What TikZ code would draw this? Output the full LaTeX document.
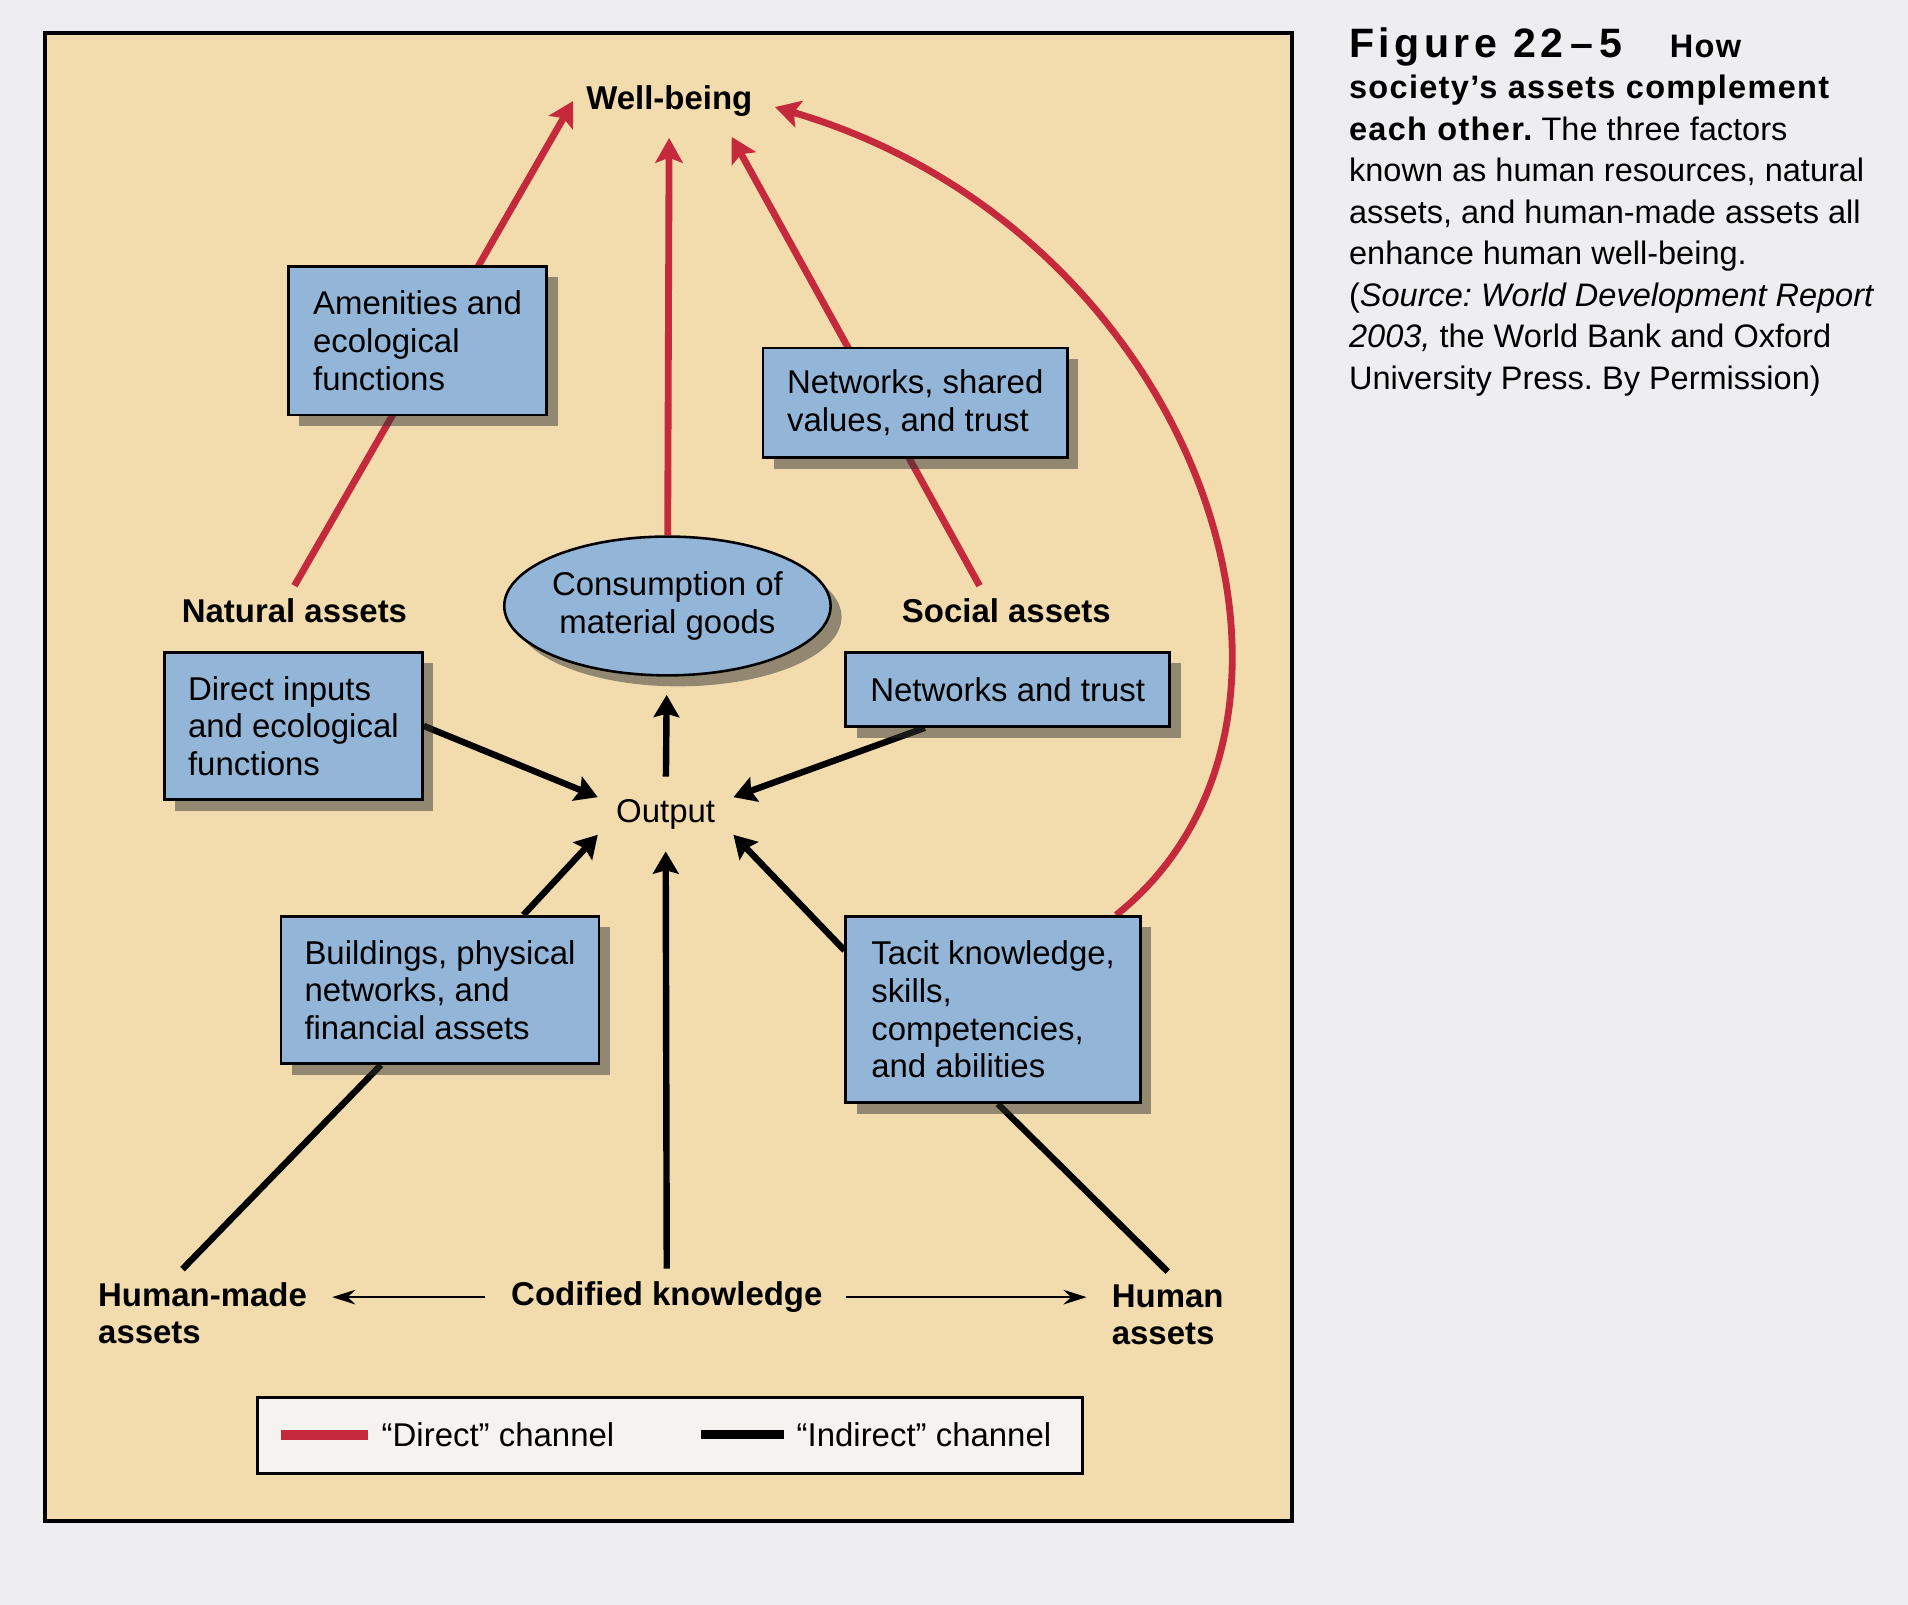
\documentclass[tikz,border=0pt]{standalone}
\usepackage{fontspec}
\setmainfont{Liberation Sans}
\newfontfamily\capheadfont[LetterSpace=11]{Liberation Sans}
\newfontfamily\capboldfont[LetterSpace=4]{Liberation Sans}
\usetikzlibrary{arrows.meta,shapes.geometric,shadows,backgrounds}
\definecolor{panel}{HTML}{F2DCAE}
\definecolor{boxblue}{HTML}{93B5D8}
\definecolor{dred}{HTML}{C42A3C}
\definecolor{pagebg}{HTML}{EEEEF0}
\definecolor{legendbg}{HTML}{F4F3EF}
\newcommand{\boxfont}{\fontsize{7.7}{8.8}\selectfont}
\newcommand{\lblfont}{\fontsize{7.7}{8.8}\selectfont\bfseries}
\frenchspacing
\begin{document}
\begin{tikzpicture}[x=0.01cm,y=-0.01cm,
  asset/.style={rectangle,draw,line width=0.6pt,fill=boxblue,align=left,inner sep=0pt,font=\boxfont,
    drop shadow={shadow xshift=0.09cm,shadow yshift=-0.09cm,fill=black!80,opacity=0.5}},
  lbl/.style={font=\lblfont,inner sep=0.1cm,align=left},
  direct/.style={dred,line width=1.6pt,-{Stealth[length=5.8pt,width=6.4pt,inset=1.2pt]}},
  indirect/.style={line width=1.5pt,-{Stealth[length=5.2pt,width=6pt,inset=0.8pt]}},
  link/.style={line width=1.5pt},
  thinarrow/.style={line width=0.6pt,-{Stealth[length=5.4pt,width=3.4pt]}}]
\useasboundingbox (0,0) rectangle (1568,1319);

\node (wellbeing) at (550,83) [lbl] {Well-being};
\node (amenities) at (236,218) [asset,anchor=north west,minimum width=2.12cm,minimum height=1.22cm] {Amenities and\\ecological\\functions};
\node (netshared) at (626,285) [asset,anchor=north west,minimum width=2.5cm,minimum height=0.9cm] {Networks, shared\\values, and trust};
\node (natural) at (242,502) [lbl] {Natural assets};
\node (social) at (827,502) [lbl] {Social assets};
\node (consumption) at (548.5,498) [asset,ellipse,align=center,minimum width=2.53cm,minimum height=1.14cm] {Consumption of\\material goods};
\node (directin) at (134,535) [asset,anchor=north west,minimum width=2.12cm,minimum height=1.21cm] {Direct inputs\\and ecological\\functions};
\node (nettrust) at (694,535) [asset,anchor=north west,minimum width=2.66cm,minimum height=0.61cm] {Networks and trust};
\node (output) at (547,669) [font=\boxfont,inner sep=0pt,minimum width=1.1cm,minimum height=0.6cm] {Output};
\node (buildings) at (230,752) [asset,anchor=north west,minimum width=2.61cm,minimum height=1.21cm] {Buildings, physical\\networks, and\\financial assets};
\node (tacit) at (694,752) [asset,anchor=north west,minimum width=2.42cm,minimum height=1.53cm] {Tacit knowledge,\\skills,\\competencies,\\and abilities};
\node (codified) at (548,1066) [lbl] {Codified knowledge};
\node (humanmade) at (70,1043) [lbl,anchor=north west] {Human-made\\assets};
\node (humanassets) at (903,1045) [lbl,anchor=north west] {Human\\assets};

\node (legend) at (210,1147) [anchor=north west,draw,line width=0.7pt,fill=legendbg,minimum width=6.78cm,minimum height=0.63cm] {};
\node (directkey) at (266.5,1179) [fill=dred,inner sep=0pt,minimum width=0.71cm,minimum height=0.08cm] {};
\node (directtxt) at (313,1179) [anchor=west,inner sep=0pt,font=\boxfont] {“Direct” channel};
\node (indirectkey) at (610,1179) [fill=black,inner sep=0pt,minimum width=0.68cm,minimum height=0.07cm] {};
\node (indirecttxt) at (654,1179) [anchor=west,inner sep=0pt,font=\boxfont] {“Indirect” channel};

\node (caption) at (1108,22) [anchor=north west,inner sep=0pt,align=left,font={\fontsize{7.6}{9.7}\selectfont}]
  {{\capheadfont\bfseries\fontsize{9.6}{9.7}\selectfont Figure 22\,–\,5}\hspace{11pt}{\capboldfont\bfseries How}\\
   {\capboldfont\bfseries society’s assets complement}\\
   {\capboldfont\bfseries each other.} The three factors\\
   known as human resources, natural\\
   assets, and human-made assets all\\
   enhance human well-being.\\
   (\textit{Source: World Development Report}\\
   \textit{2003,} the World Bank and Oxford\\
   University Press. By Permission)};

\begin{scope}[on background layer]
\fill[pagebg] (0,0) rectangle (1568,1319);
\draw[line width=0.9pt,fill=panel] (37,27) rectangle (1062,1250);
\draw[direct] (natural.north) -- (wellbeing.west);
\draw[direct,shorten >=0.07cm] (consumption) -- (wellbeing);
\draw[direct,shorten >=0.07cm] ([xshift=-0.22cm]social.north) -- (wellbeing.-26);
\draw[direct] ([xshift=-0.21cm]tacit.north east) .. controls (1120,590) and (985,190) .. ([xshift=0.08cm,yshift=-0.05cm]wellbeing.east);
\draw[indirect] (directin.east) -- (output.166);
\draw[indirect] ([xshift=0.66cm]nettrust.south west) -- (output.14);
\draw[indirect,shorten >=0.15cm] (output) -- (consumption);
\draw[indirect] ([xshift=2cm]buildings.north west) -- (output.197);
\draw[indirect] ([yshift=-0.29cm]tacit.north west) -- (output.-17);
\draw[indirect] (codified) -- (output);
\draw[link] ([xshift=-0.165cm]humanmade.north) -- ([xshift=0.83cm]buildings.south west);
\draw[link] (humanassets.north) -- ([xshift=1.26cm]tacit.south west);
\draw[thinarrow,shorten <=0.11cm,shorten >=0.1cm] (codified.west) -- (codified.west -| humanmade.east);
\draw[thinarrow,shorten <=0.09cm,shorten >=0.1cm] (codified.east) -- (codified.east -| humanassets.west);
\end{scope}
\end{tikzpicture}
\end{document}
